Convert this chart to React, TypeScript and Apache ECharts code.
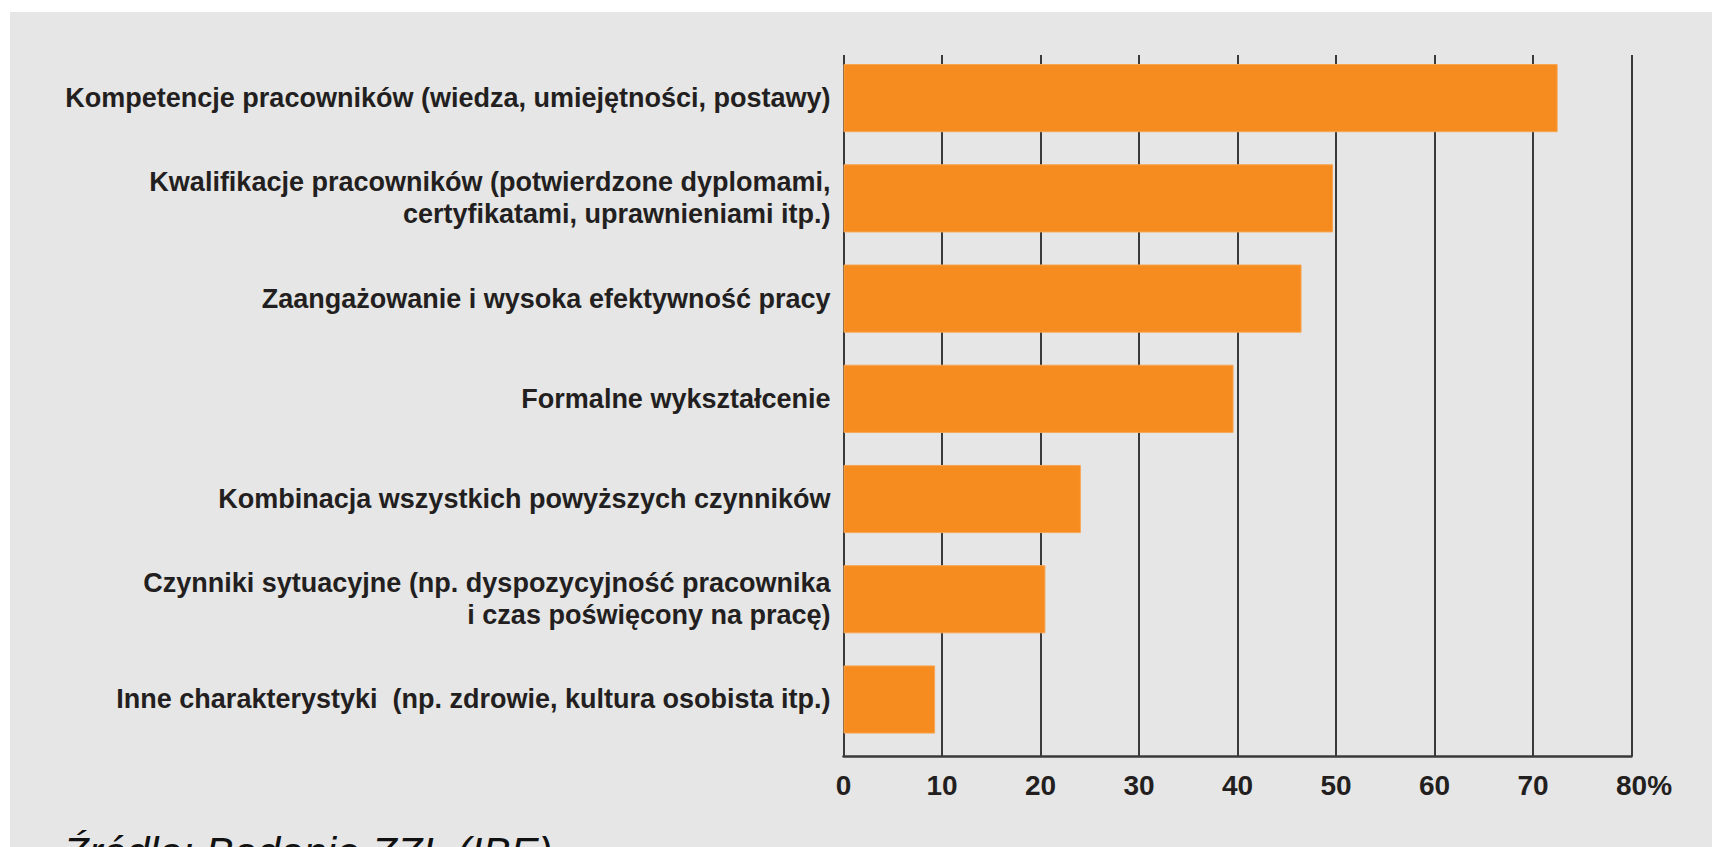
import React, { useEffect, useRef } from "react";
import * as echarts from "echarts";

const categories: string[] = [
  "Kompetencje pracowników (wiedza, umiejętności, postawy)",
  "Kwalifikacje pracowników (potwierdzone dyplomami,\ncertyfikatami, uprawnieniami itp.)",
  "Zaangażowanie i wysoka efektywność pracy",
  "Formalne wykształcenie",
  "Kombinacja wszystkich powyższych czynników",
  "Czynniki sytuacyjne (np. dyspozycyjność pracownika\ni czas poświęcony na pracę)",
  "Inne charakterystyki  (np. zdrowie, kultura osobista itp.)",
];

const values: number[] = [72.5, 49.7, 46.5, 39.6, 24.1, 20.5, 9.3];

const axisMin = 0;
const axisMax = 80;
const axisInterval = 10;

const sourceText = "Źródło: Badanie ZZL (IBE)";

const FONT = "'Liberation Sans', Arial, sans-serif";
const TEXT = "#231f20";
const LINE = "#3a3a3a";
const ORANGE = "#f68b1f";

export default function App() {
  const ref = useRef<HTMLDivElement>(null);

  useEffect(() => {
    if (!ref.current) return;
    const chart = echarts.init(ref.current, undefined, { renderer: "svg" });
    const left = 843.5;
    const width = 788;
    chart.setOption({
      animation: false,
      backgroundColor: "#ffffff",
      graphic: [
        {
          type: "rect",
          z: -10,
          shape: { x: 10, y: 12, width: 1702, height: 835 },
          style: { fill: "#e6e6e6" },
          silent: true,
        },
        {
          type: "text",
          x: 63,
          y: 831,
          style: {
            text: sourceText,
            font: "italic 42px 'Liberation Sans', Arial, sans-serif",
            fill: "#111111",
            verticalAlign: "top",
            align: "left",
          },
          silent: true,
        },
      ],
      grid: [
        { left, width, top: 48, height: 701.6, containLabel: false, outerBoundsMode: "none" },
        { left, width, top: 55, height: 701, containLabel: false, outerBoundsMode: "none" },
      ],
      xAxis: [
        {
          type: "value",
          gridIndex: 0,
          min: axisMin,
          max: axisMax,
          interval: axisInterval,
          show: false,
        },
        {
          type: "value",
          gridIndex: 1,
          min: axisMin,
          max: axisMax,
          interval: axisInterval,
          axisLine: { show: true, lineStyle: { color: LINE, width: 2.5 } },
          axisTick: { show: false },
          splitLine: {
            show: true,
            showMinLine: true,
            showMaxLine: true,
            lineStyle: { color: LINE, width: 2 },
          },
          axisLabel: {
            margin: 15,
            fontFamily: FONT,
            fontWeight: "bold",
            fontSize: 28,
            color: TEXT,
            formatter: (v: number) => (v === axisMax ? "{pad|}" + v + "%" : String(v)),
            rich: { pad: { width: 25 } },
          },
        },
      ],
      yAxis: [
        {
          type: "category",
          gridIndex: 0,
          data: categories,
          inverse: true,
          axisLine: { show: false },
          axisTick: { show: false },
          splitLine: { show: false },
          axisLabel: {
            margin: 13,
            fontFamily: FONT,
            fontWeight: "bold",
            fontSize: 27,
            lineHeight: 32,
            color: TEXT,
          },
        },
        {
          type: "value",
          gridIndex: 1,
          min: 0,
          max: 1,
          show: false,
        },
      ],
      series: [
        {
          type: "bar",
          xAxisIndex: 0,
          yAxisIndex: 0,
          data: values,
          barCategoryGap: "32%",
          itemStyle: { color: ORANGE, borderColor: "#f7a552", borderWidth: 1 },
          z: 3,
        },
      ],
    });
    return () => chart.dispose();
  }, []);

  return (
    <div
      ref={ref}
      style={{ position: "absolute", left: 0, top: 0, width: 1712, height: 847 }}
    />
  );
}
